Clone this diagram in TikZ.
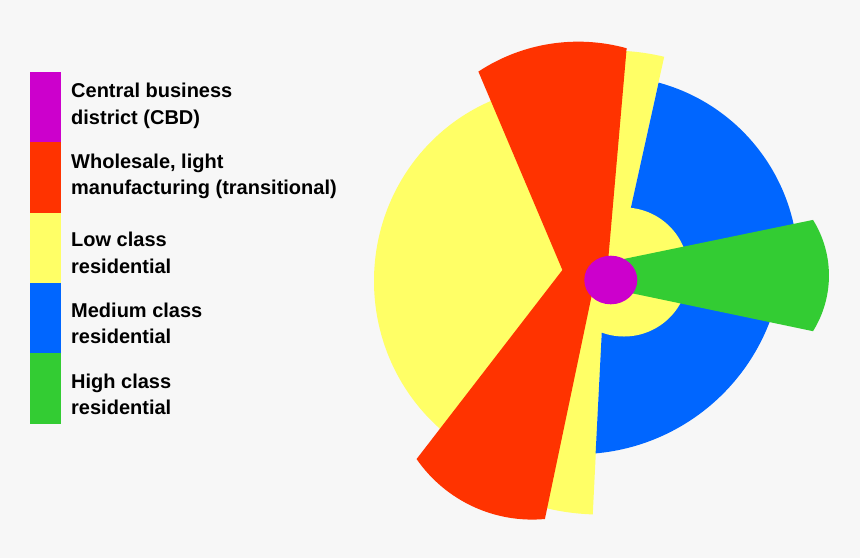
\documentclass[tikz,border=0pt]{standalone}
\usepackage{fontspec}
\setmainfont{Liberation Sans}
\usetikzlibrary{positioning,shapes.geometric}
\definecolor{CBDpurple}{HTML}{CC00CC}
\definecolor{TransRed}{HTML}{FF3300}
\definecolor{LowYellow}{HTML}{FFFF66}
\definecolor{MedBlue}{HTML}{0066FF}
\definecolor{HighGreen}{HTML}{33CC33}
\definecolor{PageGrey}{HTML}{F7F7F7}
\tikzset{
  cbdzone/.style={fill=CBDpurple},
  transzone/.style={fill=TransRed},
  lowzone/.style={fill=LowYellow},
  medzone/.style={fill=MedBlue},
  highzone/.style={fill=HighGreen},
  swatch/.style={minimum width=31pt,minimum height=70.4pt,inner sep=0pt,outer sep=0pt},
  legtext/.style={align=left,inner sep=0pt,font=\bfseries\fontsize{20}{26.6}\selectfont},
}

\begin{document}
\begin{tikzpicture}[x=1pt,y=-1pt]
\fill[PageGrey] (0,0) rectangle (860,558);

% legend
\node[swatch, cbdzone, anchor=north west] (swcbd) at (30,71.7) {};
\node[swatch, transzone, below=0pt of swcbd] (swtrans) {};
\node[swatch, lowzone, below=0pt of swtrans] (swlow) {};
\node[swatch, medzone, below=0pt of swlow] (swmed) {};
\node[swatch, highzone, below=0pt of swmed] (swhigh) {};

% (base = baseline of the second line)
\node[legtext, anchor=base west] (lbcbd) at (71,124.3) {Central business\\district (CBD)};
\node[legtext, anchor=base west] (lbtrans) at (71,194.9) {Wholesale, light\\manufacturing (transitional)};
\node[legtext, anchor=base west] (lblow) at (71,273.3) {Low class\\residential};
\node[legtext, anchor=base west] (lbmed) at (71,343.9) {Medium class\\residential};
\node[legtext, anchor=base west] (lbhigh) at (71,414.9) {High class\\residential};

% low class, west side
\begin{scope}
  \clip (360,40) rectangle (578,520);
  \fill[lowzone] (564,281) ellipse [x radius=190, y radius=195];
\end{scope}
% low class, thin strips
\fill[lowzone] (605,270) -- (624.2,50.9) arc[start angle=-86.7, end angle=-76.6, radius=229.5] -- (617.1,270) -- cycle;
\fill[lowzone] (590,285) -- (542.5,507.2) arc[start angle=104.5, end angle=91.8, radius=229.5] -- (604.2,285) -- cycle;

% medium class
\fill[medzone] (617.1,270) -- (658.6,82.6) arc[start angle=-74.8, end angle=0, radius=189] -- (640,270) -- cycle;
\fill[medzone] (630,285) -- (776.2,301.6) arc[start angle=15, end angle=84.9, radius=205.9] -- (604.2,285) -- cycle;

% low class ring round the centre
\fill[lowzone] (624,272) circle[radius=64.5];

% transitional
\fill[transzone] (562.4,270) -- (478.4,71.6) arc[start angle=-123.4, end angle=-74.5, radius=181.3]
  -- (607.3,270) -- (593.9,285) -- (544.9,519) arc[start angle=84.8, end angle=145.3, radius=140.6] -- cycle;

% high class
\fill[highzone] (615,260.8) -- (813,219.9) arc[start angle=-32, end angle=32, radius=105] -- (615,289.7) -- cycle;

% cbd
\node[ellipse, cbdzone, minimum width=53pt, minimum height=48.6pt, inner sep=0pt] (cbd) at (610.8,280) {};
\end{tikzpicture}
\end{document}
